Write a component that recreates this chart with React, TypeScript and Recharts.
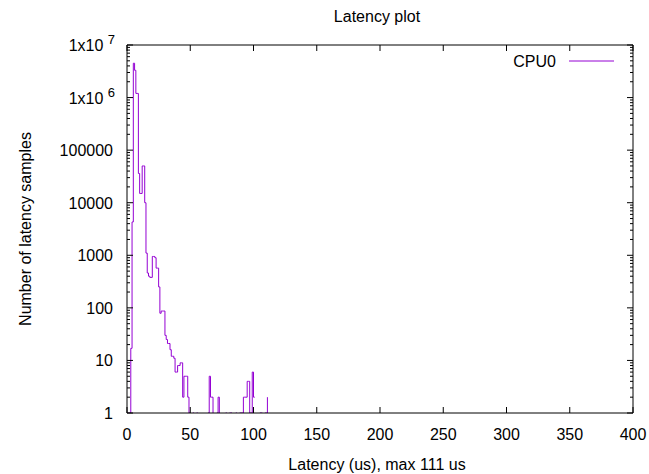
import React from "react";
import { LineChart, Line, XAxis, YAxis } from "recharts";

// Histogram counts per 1 us latency bin (index = latency in us); null = no samples
const sampleCounts: (number | null)[] = [
  null, 1, 1, 17, 4300, 4500000, 3300000, 1200000, 1200000, 36000,
  15000, 15000, 50000, 50000, 10000, 1100, 460, 400, 380, 380,
  950, 950, 900, 570, 570, 250, 79, 87, 87, 87,
  30, 25, 21, 21, 16, 12, 12, 11, 6, 6,
  8, 8, 9, 9, 2, 5, 5, 5, 2, 1,
  1, null, 1, 1, null, 1, 1, null, 1, null,
  null, null, null, null, 1, 5, 2, 2, 1, null,
  null, 1, 2, 1, null, null, null, null, 1, 1,
  null, 1, 1, 1, null, null, 1, 1, null, 1,
  1, 1, 2, 2, 2, 4, 4, 1, 1, 6,
  2, 2, null, null, null, 1, 1, 1, null, 1,
  1, 2,
];

const xTicks = [0, 50, 100, 150, 200, 250, 300, 350, 400];
const yMajorTicks = [1, 10, 100, 1000, 10000, 100000, 1000000, 10000000];
const yMinorFactors = [2, 3, 4, 5, 6, 7, 8, 9];
const seriesName = "CPU0";
const title = "Latency plot";
const xLabel = "Latency (us), max 111 us";
const yLabel = "Number of latency samples";

const data = sampleCounts.map((c, i) => ({ latency: i, count: c }));
const yTicks: number[] = [...yMajorTicks];
yMajorTicks.slice(0, -1).forEach((m) => yMinorFactors.forEach((f) => yTicks.push(m * f)));
yTicks.sort((a, b) => a - b);

const FONT = "'Liberation Sans', Arial, sans-serif";
const FS = 16;
const COLOR = "#9400d3";

const isMajor = (v: number) => yMajorTicks.includes(v);

const YLabelText = ({ v, x, y }: { v: number; x: number; y: number }) => {
  const exp = Math.round(Math.log10(v));
  if (exp >= 6) {
    return (
      <text x={x} y={y} textAnchor="end" fontFamily={FONT} fontSize={FS} fill="#000">
        <tspan>1x10 </tspan>
        <tspan dy={-7} fontSize={FS - 3}>{exp}</tspan>
      </text>
    );
  }
  return (
    <text x={x} y={y} textAnchor="end" fontFamily={FONT} fontSize={FS} fill="#000">
      {String(v)}
    </text>
  );
};

const YTickLeft = (props: any) => {
  const { x, y, payload } = props;
  const v = payload.value;
  const major = isMajor(v);
  const len = major ? 6 : 3;
  const exp = Math.round(Math.log10(v));
  return (
    <g>
      <line x1={x} x2={x + len} y1={y} y2={y} stroke="#000" strokeWidth={1} />
      {major && <YLabelText v={v} x={exp >= 6 ? x - 12 : x - 14} y={y + 6} />}
    </g>
  );
};

const YTickRight = (props: any) => {
  const { x, y, payload } = props;
  const len = isMajor(payload.value) ? 6 : 3;
  return <line x1={x - len} x2={x} y1={y} y2={y} stroke="#000" strokeWidth={1} />;
};

const XTickBottom = (props: any) => {
  const { x, y, payload } = props;
  return (
    <g>
      <line x1={x} x2={x} y1={y} y2={y - 6} stroke="#000" strokeWidth={1} />
      <text x={x} y={y + 27} textAnchor="middle" fontFamily={FONT} fontSize={FS} fill="#000">
        {payload.value}
      </text>
    </g>
  );
};

const XTickTop = (props: any) => {
  const { x, y } = props;
  return <line x1={x} x2={x} y1={y} y2={y + 6} stroke="#000" strokeWidth={1} />;
};

export default function App() {
  return (
    <div style={{ position: "absolute", left: 0, top: 0, width: 649, height: 474, background: "#fff" }}>
      <LineChart
        width={649}
        height={474}
        data={data}
        margin={{ top: 44, right: 15, bottom: 0, left: 0 }}
      >
        <XAxis
          xAxisId="bottom"
          dataKey="latency"
          type="number"
          domain={[0, 400]}
          ticks={xTicks}
          interval={0}
          height={61}
          tickSize={0}
          tickMargin={0}
          tickLine={false}
          axisLine={{ stroke: "#000" }}
          tick={<XTickBottom />}
        />
        <XAxis
          xAxisId="top"
          orientation="top"
          dataKey="latency"
          type="number"
          domain={[0, 400]}
          ticks={xTicks}
          interval={0}
          height={1}
          tickSize={0}
          tickMargin={0}
          tickLine={false}
          axisLine={{ stroke: "#000" }}
          tick={<XTickTop />}
        />
        <YAxis
          yAxisId="left"
          scale="log"
          type="number"
          domain={[1, 10000000]}
          allowDataOverflow
          ticks={yTicks}
          interval={0}
          width={127}
          tickSize={0}
          tickMargin={0}
          tickLine={false}
          axisLine={{ stroke: "#000" }}
          tick={<YTickLeft />}
        />
        <YAxis
          yAxisId="right"
          orientation="right"
          scale="log"
          type="number"
          domain={[1, 10000000]}
          allowDataOverflow
          ticks={yTicks}
          interval={0}
          width={1}
          tickSize={0}
          tickMargin={0}
          tickLine={false}
          axisLine={{ stroke: "#000" }}
          tick={<YTickRight />}
        />
        <Line
          xAxisId="bottom"
          yAxisId="left"
          type="stepAfter"
          dataKey="count"
          stroke={COLOR}
          strokeWidth={1}
          dot={false}
          activeDot={false}
          connectNulls={false}
          isAnimationActive={false}
        />
        <text x={377} y={22} textAnchor="middle" fontFamily={FONT} fontSize={FS} fill="#000">
          {title}
        </text>
        <text x={377} y={470} textAnchor="middle" fontFamily={FONT} fontSize={FS} fill="#000">
          {xLabel}
        </text>
        <text
          x={31}
          y={229}
          textAnchor="middle"
          fontFamily={FONT}
          fontSize={FS}
          fill="#000"
          transform="rotate(-90 31 229)"
        >
          {yLabel}
        </text>
        <g>
          <text x={556} y={67} textAnchor="end" fontFamily={FONT} fontSize={FS} fill="#000">
            {seriesName}
          </text>
          <line x1={569} x2={614} y1={61} y2={61} stroke={COLOR} strokeWidth={1} />
        </g>
      </LineChart>
    </div>
  );
}
